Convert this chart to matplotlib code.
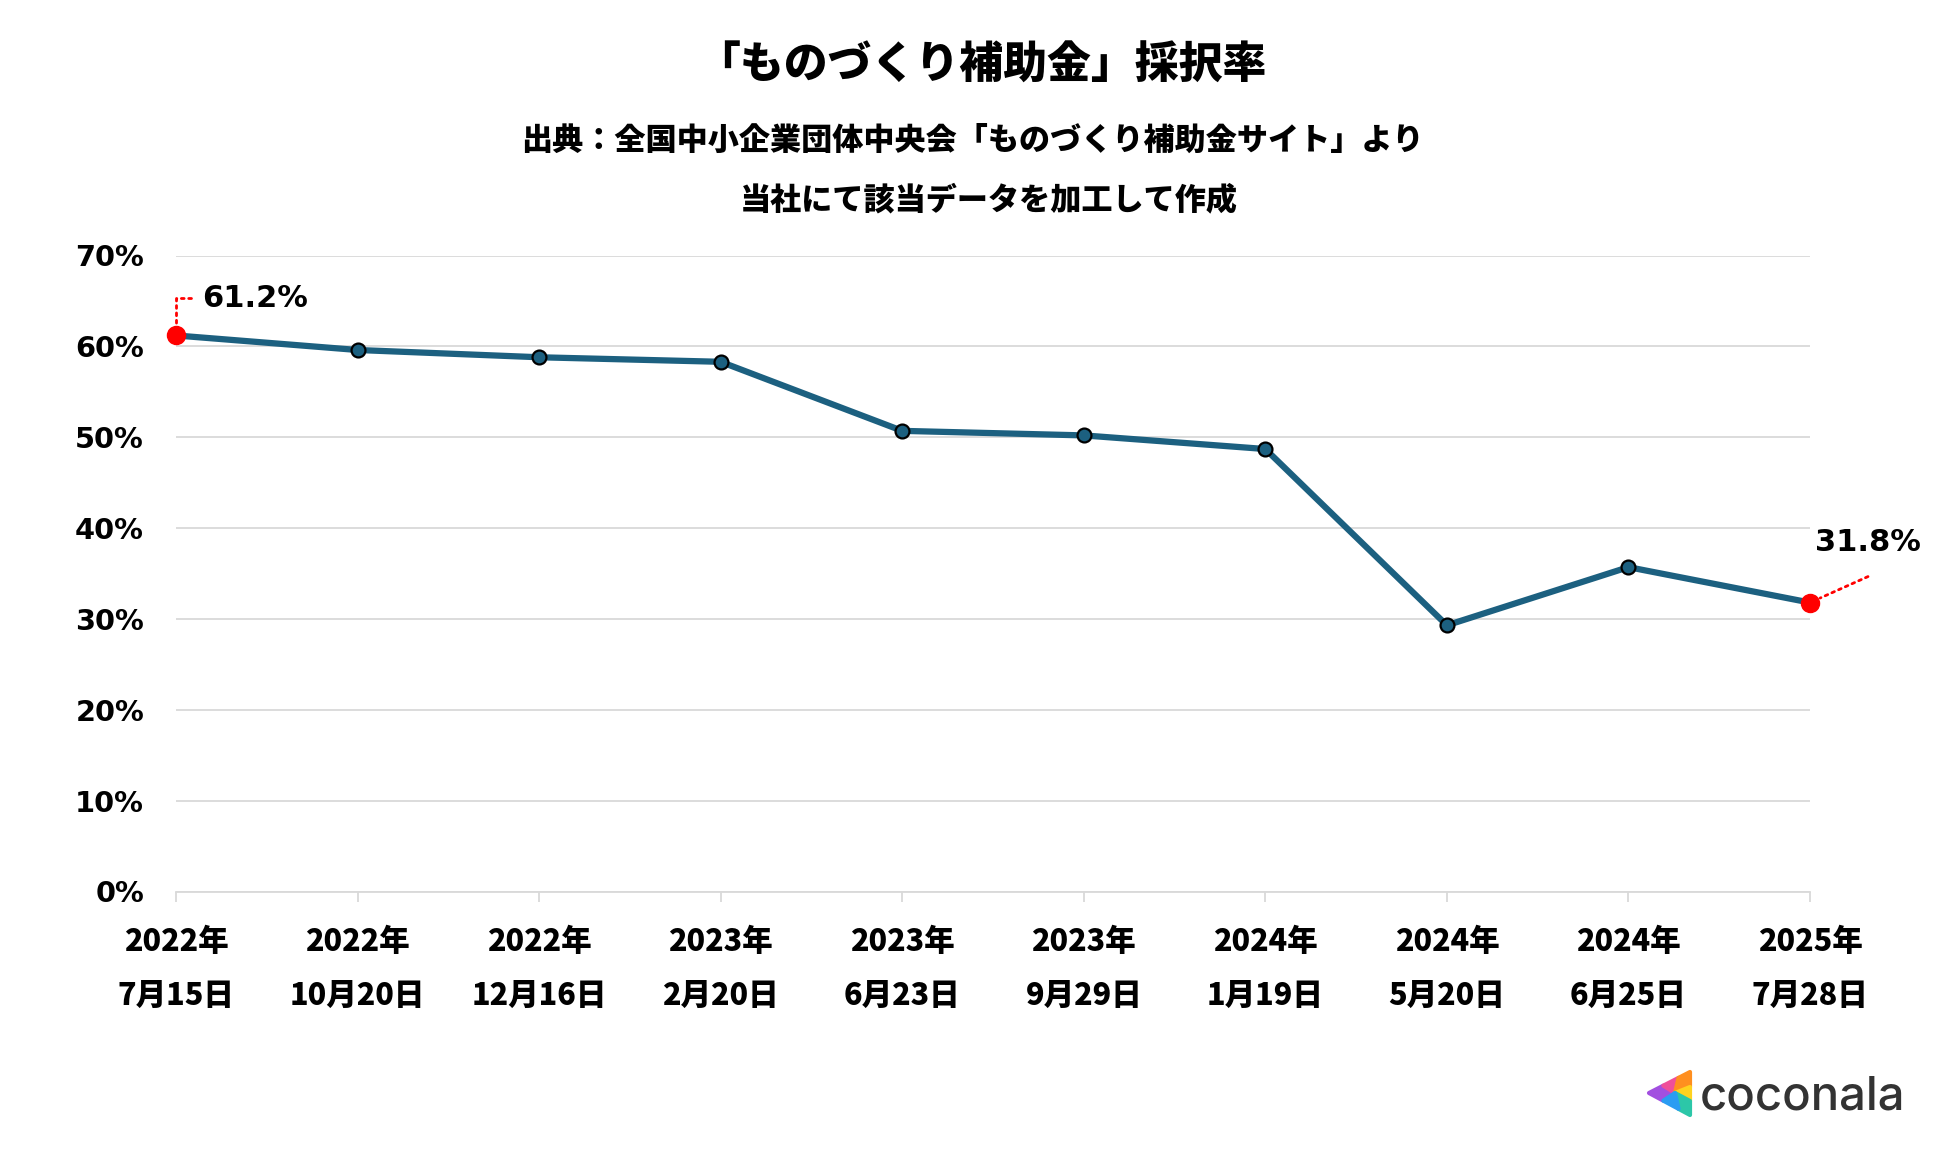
import matplotlib
matplotlib.use("Agg")
import matplotlib.pyplot as plt
from matplotlib.patches import Polygon
import matplotlib.transforms as mtransforms

plt.rcParams['font.family'] = ['Noto Sans CJK JP', 'DejaVu Sans']

# ---- data ----
years = ["2022年", "2022年", "2022年", "2023年", "2023年", "2023年", "2024年", "2024年", "2024年", "2025年"]
dates = ["7月15日", "10月20日", "12月16日", "2月20日", "6月23日", "9月29日", "1月19日", "5月20日", "6月25日", "7月28日"]
rates = [61.2, 59.6, 58.8, 58.3, 50.7, 50.2, 48.7, 29.3, 35.7, 31.8]
yticks = [0, 10, 20, 30, 40, 50, 60, 70]

title = "「ものづくり補助金」採択率"
sub1 = "出典：全国中小企業団体中央会「ものづくり補助金サイト」より"
sub2 = "当社にて該当データを加工して作成"

W, H = 1950, 1154
fig = plt.figure(figsize=(W / 100, H / 100), dpi=100)
fig.patch.set_facecolor("white")

L, R, T, B = 176, 1810, 255.5, 891.5
ax = fig.add_axes([L / W, 1 - B / H, (R - L) / W, (B - T) / H])
x = list(range(len(rates)))

grid_c = "#d9d9d9"
line_c = "#1c6080"

ax.set_xlim(0, len(rates) - 1)
ax.set_ylim(0, 70)
for s in ["top", "right", "left"]:
    ax.spines[s].set_visible(False)
ax.spines["bottom"].set_color(grid_c)
ax.spines["bottom"].set_linewidth(1.3)
ax.set_yticks(yticks)
ax.set_yticklabels([f"{v}%" for v in yticks], fontfamily="DejaVu Sans",
                   fontweight="bold", fontsize=20.8)
ax.tick_params(axis="y", length=0, pad=23)
ax.yaxis.grid(True, color=grid_c, linewidth=1.3)
ax.set_axisbelow(True)
ax.set_xticks(x)
ax.set_xticklabels([])
ax.tick_params(axis="x", direction="out", length=7, width=1.3, color=grid_c)

# x tick labels (two lines)
trans = ax.get_xaxis_transform()
for i in x:
    ax.text(i, 0, years[i], transform=mtransforms.offset_copy(trans, fig=fig, x=0, y=-50, units="dots"),
            ha="center", va="center", fontsize=22, fontweight="heavy")
    ax.text(i, 0, dates[i], transform=mtransforms.offset_copy(trans, fig=fig, x=0, y=-104, units="dots"),
            ha="center", va="center", fontsize=22, fontweight="heavy")

ax.plot(x, rates, color=line_c, linewidth=4.5, zorder=3, clip_on=False,
        marker="o", markersize=10, markerfacecolor=line_c, markeredgecolor="black",
        markeredgewidth=1.6)
# red endpoints
ax.plot([x[0], x[-1]], [rates[0], rates[-1]], linestyle="none", marker="o",
        markersize=13, color="#ff0000", zorder=4, clip_on=False)

# annotations with dotted leaders
ax.annotate(f"{rates[0]}%", xy=(x[0], rates[0]), xytext=(26, 37), textcoords="offset pixels",
            fontfamily="DejaVu Sans", fontweight="bold", fontsize=22, ha="left", va="center",
            annotation_clip=False)
ax.annotate("", xy=(x[0], rates[0]), xytext=(15, 37), textcoords="offset pixels",
            arrowprops=dict(arrowstyle="-", color="#ff0000", linestyle=":", lw=2,
                            connectionstyle="angle,angleA=0,angleB=90,rad=0",
                            shrinkA=0, shrinkB=8),
            annotation_clip=False)
ax.annotate(f"{rates[-1]}%", xy=(x[-1], rates[-1]), xytext=(5, 60), textcoords="offset pixels",
            fontfamily="DejaVu Sans", fontweight="bold", fontsize=22, ha="left", va="center",
            annotation_clip=False)
ax.annotate("", xy=(x[-1], rates[-1]), xytext=(58, 26), textcoords="offset pixels",
            arrowprops=dict(arrowstyle="-", color="#ff0000", linestyle=":", lw=2,
                            shrinkA=0, shrinkB=8),
            annotation_clip=False)

# titles
fig.text(981 / W, 1 - 65 / H, title, ha="center", va="center", fontsize=31.6, fontweight="black")
fig.text(972 / W, 1 - 140 / H, sub1, ha="center", va="center", fontsize=22.4, fontweight="black")
fig.text(989 / W, 1 - 200 / H, sub2, ha="center", va="center", fontsize=22.4, fontweight="black")

# logo overlay
ov = fig.add_axes([0, 0, 1, 1], zorder=-1)
ov.set_xlim(0, W)
ov.set_ylim(H, 0)
ov.axis("off")
Lp = (1649, 1093); TR = (1690, 1072); BR = (1690, 1115)
C = (1675, 1093)
def lerp(a, b, t):
    return (a[0] + (b[0] - a[0]) * t, a[1] + (b[1] - a[1]) * t)
T1 = lerp(Lp, TR, 0.35); T2 = lerp(Lp, TR, 0.72)
R1 = (1690, 1087); R2 = (1690, 1101)
B1 = lerp(Lp, BR, 0.35); B2 = lerp(Lp, BR, 0.72)
pieces = [
    ([C, B1, Lp, T1], "#a24fe0"),
    ([C, T1, T2], "#ef4f9a"),
    ([C, T2, TR, R1], "#ff8f1f"),
    ([C, R1, R2], "#ffd21f"),
    ([C, R2, BR, B2], "#2cc7a8"),
    ([C, B2, B1], "#2b9cf2"),
]
for pts, col in pieces:
    ov.add_patch(Polygon(pts, closed=True, facecolor=col, edgecolor=col, linewidth=3,
                         joinstyle="round"))
ov.text(1700, 1097, "coconala", fontfamily="Inter", fontweight="medium", fontsize=34,
        color="#333333", ha="left", va="center")

fig.savefig("out.png", dpi=100, facecolor="white")
